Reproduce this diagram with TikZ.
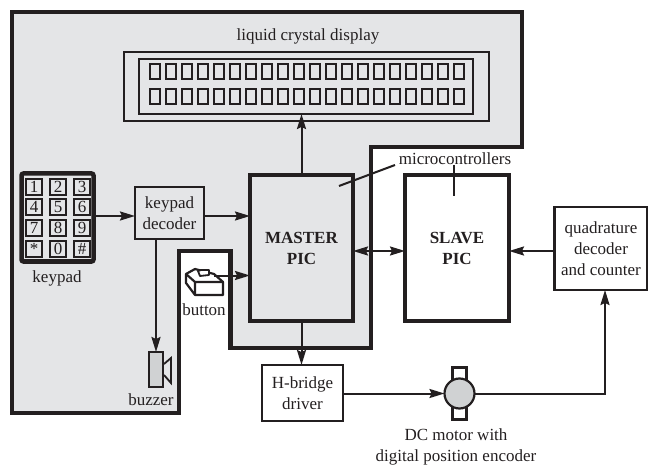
\documentclass[tikz,border=0pt]{standalone}
\usepackage{fontspec}
\setmainfont{Liberation Serif}
\usetikzlibrary{arrows.meta,calc}
\definecolor{ink}{HTML}{231F20}
\definecolor{panel}{HTML}{E4E5E7}
\definecolor{part}{HTML}{D0D2D3}
\tikzset{
  x=1pt,y=-1pt,
  every node/.style={inner sep=0pt,outer sep=0pt,text=ink,font=\fontsize{17}{21}\selectfont,align=center},
  box/.style={draw=ink,line width=2.2pt,rectangle,fill=white},
  pic box/.style={draw=ink,line width=4.5pt,rectangle},
  arr/.style={draw=ink,line width=2pt,-{Stealth[length=15pt,width=9pt,inset=2pt]}},
  dbl/.style={draw=ink,line width=2pt,{Stealth[length=15pt,width=9pt,inset=2pt]}-{Stealth[length=15pt,width=9pt,inset=2pt]}},
  plain/.style={draw=ink,line width=2pt},
  keycap/.style={draw=ink,line width=2.2pt,rectangle,minimum width=16pt,minimum height=16.5pt},
  cell/.style={draw=ink,line width=2pt,rectangle,minimum width=10pt,minimum height=15pt},
}
\begin{document}
\begin{tikzpicture}
\useasboundingbox (0,0) rectangle (648,465);
% shaded master region
\draw[draw=ink,fill=panel,line width=4.5pt,miter limit=10]
  (12,12) -- (522,12) -- (522,147) -- (371,147) -- (371,348) -- (230.5,348)
  -- (230.5,251) -- (179,251) -- (179,413) -- (12,413) -- cycle;
% LCD
\node[draw=ink,line width=2.2pt,rectangle,minimum width=365pt,minimum height=69pt] (lcdouter) at (306.5,86.5) {};
\node[draw=ink,line width=2.2pt,rectangle,minimum width=334pt,minimum height=55pt] (lcdinner) at (306,86.5) {};
\foreach \i in {0,...,19}{
  \node[cell] (ca\i) at ({155+16*\i},72) {};
  \node[cell] (cb\i) at ({155+16*\i},97) {};
}
\node (lcdlabel) at (308,36) {liquid crystal display};
% keypad
\node[draw=ink,line width=4.5pt,rectangle,rounded corners=2pt,minimum width=72pt,minimum height=88pt] (keypad) at (57.5,217.5) {};
\foreach \t/\cx/\cy/\n in {1/34/187/a,2/58/187/b,3/82/187/c,4/34/207/d,5/58/207/e,6/82/207/f,7/34/228/g,8/58/228/h,9/82/228/i,*/34/249/j,0/58/249/k,\#/82/249/l}{
  \node[keycap] (key\n) at (\cx,\cy) {\t};
}
\node (keypadlabel) at (57,278) {keypad};
% decoder
\node[box,fill=panel,minimum width=69pt,minimum height=52pt] (dec) at (169.5,213) {keypad\\decoder};
% PICs
\node[pic box,fill=panel,minimum width=103pt,minimum height=146pt] (master) at (301.5,248) {\textbf{MASTER}\\\textbf{PIC}};
\node[pic box,fill=white,minimum width=104pt,minimum height=146pt] (slave) at (457,248) {\textbf{SLAVE}\\\textbf{PIC}};
% other boxes
\node[box,minimum width=93pt,minimum height=83pt] (quad) at (601,248.5) {quadrature\\decoder\\and counter};
\node[box,minimum width=81pt,minimum height=56pt] (hb) at (302.5,393) {H-bridge\\driver};
% motor
\node[draw=ink,line width=2.2pt,rectangle,fill=white,minimum width=14pt,minimum height=52pt] (motorbody) at (459.5,393.5) {};
\node[draw=ink,line width=2.2pt,circle,fill=part,minimum size=30pt] (motor) at (459.5,393.5) {};
\node (motorlabel) at (456,447) {DC motor with\\digital position encoder};
% buzzer
\node[draw=ink,line width=2.2pt,rectangle,fill=part,minimum width=14pt,minimum height=35pt] (buzzer) at (156,369.5) {};
\draw[draw=ink,line width=1.8pt,line join=miter] (164,364) -- (171,358) -- (171,383) -- (164,375);
\node (buzzerlabel) at (151,400) {buzzer};
% button
\coordinate (btn) at (214,275.5);
\draw[draw=ink,line width=2.2pt,fill=white,line join=round]
  (186,274) -- (195,269) -- (214,274) -- (223,282) -- (223,295) -- (195,295) -- (186,283) -- cycle;
\draw[draw=ink,line width=2.2pt,line join=round] (186,274) -- (195,282) -- (223,282) (195,282) -- (195,295);
\draw[draw=ink,line width=1.8pt,fill=white,line join=round]
  (198,271) -- (201,270) -- (209,270) -- (209,275) -- (200,276) -- cycle;
\node (buttonlabel) at (204,310) {button};
% microcontroller label
\node (mc) at (455,158.5) {microcontrollers};
\coordinate (mcA) at (395,165);
\coordinate (mcB) at (339,186);
\coordinate (mcC) at (454,165);
\coordinate (mcD) at (454,196);
\draw[plain] (mcA) -- (mcB);
\draw[plain] (mcC) -- (mcD);
% connectors
\draw[arr] ([yshift=1.5pt]keypad.east) -- ([yshift=-3pt]dec.west);
\draw[arr] ([yshift=-3pt]dec.east) -- ([yshift=-3pt]dec.east -| master.west);
\draw[arr] (buzzer.north |- dec.south) -- (buzzer.north);
\draw[arr] (btn) -- (master.west |- btn);
\draw[arr] (master.north) -- (master.north |- lcdinner.south);
\draw[arr] (master.south) -- (master.south |- hb.north);
\draw[dbl] ([yshift=-3pt]master.east) -- ([yshift=-3pt]slave.west);
\draw[arr] ([yshift=-2.5pt]quad.west) -- ([yshift=-3pt]slave.east);
\draw[arr] (hb.east |- motor.west) -- (motor.west);
\draw[arr] (motor.east) -| ([xshift=4pt]quad.south);
\end{tikzpicture}
\end{document}
